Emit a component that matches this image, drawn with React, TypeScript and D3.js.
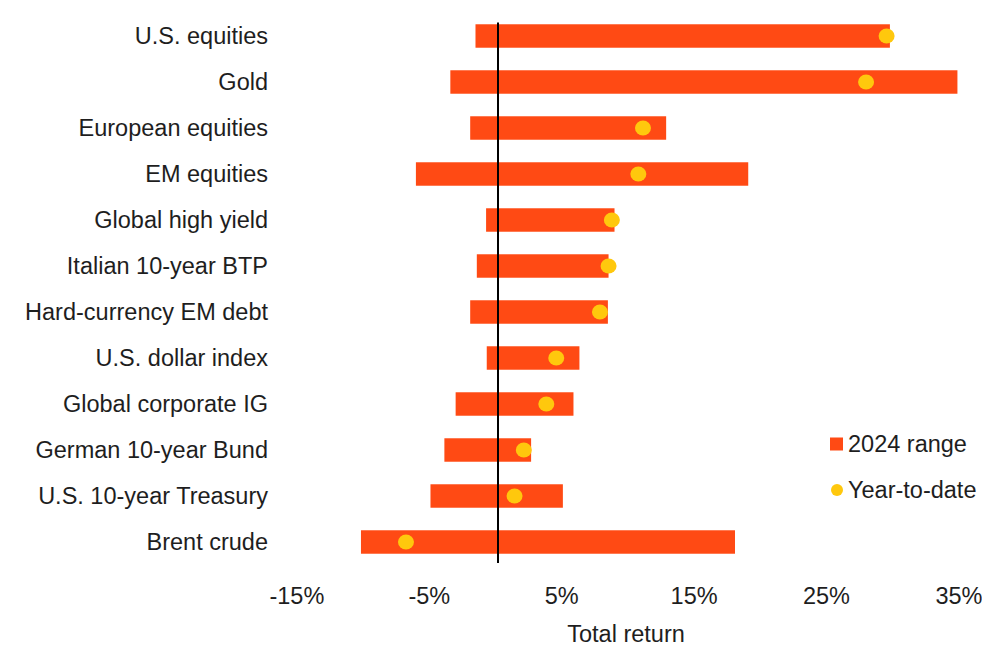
import React, { useRef, useEffect } from 'react';
import * as d3 from 'd3';

const categories = [
  'U.S. equities',
  'Gold',
  'European equities',
  'EM equities',
  'Global high yield',
  'Italian 10-year BTP',
  'Hard-currency EM debt',
  'U.S. dollar index',
  'Global corporate IG',
  'German 10-year Bund',
  'U.S. 10-year Treasury',
  'Brent crude',
];
const rangeLow = [-1.7, -3.6, -2.1, -6.2, -0.9, -1.6, -2.1, -0.85, -3.2, -4.05, -5.1, -10.35];
const rangeHigh = [29.6, 34.7, 12.7, 18.9, 8.8, 8.35, 8.3, 6.15, 5.7, 2.5, 4.9, 17.9];
const ytd = [29.35, 27.8, 10.95, 10.6, 8.6, 8.35, 7.7, 4.4, 3.65, 1.95, 1.25, -6.95];
const tickValues = [-15, -5, 5, 15, 25, 35];

const W = 982;
const H = 646;
const BAR = '#ff4a14';
const DOT = '#ffc80d';
const TEXT = '#1e1e1e';
const FONT = "'Liberation Sans', Arial, sans-serif";
const FS = 23.5;

const Chart = () => {
  const svgRef = useRef<SVGSVGElement>(null);

  useEffect(() => {
    const svg = d3.select(svgRef.current);
    svg.selectAll('*').remove();

    const data = categories.map((c, i) => ({
      name: c,
      lo: rangeLow[i],
      hi: rangeHigh[i],
      ytd: ytd[i],
    }));

    // 0% sits on the black line, 10 pts = ~132px
    const x = d3.scaleLinear().domain([-15, 35]).range([299.4, 961.4]);
    const y = d3
      .scaleBand()
      .domain(categories)
      .range([13, 565])
      .paddingInner(0.49)
      .paddingOuter(0.245);

    svg
      .append('g')
      .selectAll('rect')
      .data(data)
      .enter()
      .append('rect')
      .attr('x', (d) => x(d.lo))
      .attr('y', (d) => y(d.name)!)
      .attr('width', (d) => x(d.hi) - x(d.lo))
      .attr('height', y.bandwidth())
      .attr('fill', BAR);

    // zero line
    svg
      .append('line')
      .attr('x1', x(0))
      .attr('x2', x(0))
      .attr('y1', 22.5)
      .attr('y2', 563)
      .attr('stroke', '#000')
      .attr('stroke-width', 2);

    svg
      .append('g')
      .selectAll('ellipse')
      .data(data)
      .enter()
      .append('ellipse')
      .attr('cx', (d) => x(d.ytd))
      .attr('cy', (d) => y(d.name)! + y.bandwidth() / 2)
      .attr('rx', 8)
      .attr('ry', 7.5)
      .attr('fill', DOT);

    // category labels
    svg
      .append('g')
      .selectAll('text')
      .data(data)
      .enter()
      .append('text')
      .attr('x', 268)
      .attr('y', (d) => y(d.name)! + y.bandwidth() / 2 - 0.5)
      .attr('dy', '0.35em')
      .attr('text-anchor', 'end')
      .attr('font-family', FONT)
      .attr('font-size', FS)
      .attr('fill', TEXT)
      .text((d) => d.name);

    // x axis labels
    const xAxis = d3
      .axisBottom(x)
      .tickValues(tickValues)
      .tickSize(0)
      .tickPadding(0)
      .tickFormat((v) => `${v}%`);
    const gx = svg.append('g').attr('transform', 'translate(-3,587)').call(xAxis);
    gx.select('.domain').remove();
    gx.selectAll('text')
      .attr('font-family', FONT)
      .attr('font-size', FS)
      .attr('fill', TEXT)
      .attr('dy', '0.71em');

    svg
      .append('text')
      .attr('x', 626)
      .attr('y', 642)
      .attr('text-anchor', 'middle')
      .attr('font-family', FONT)
      .attr('font-size', FS)
      .attr('fill', TEXT)
      .text('Total return');

    // legend
    const lg = svg.append('g');
    lg.append('rect').attr('x', 830).attr('y', 437.5).attr('width', 13).attr('height', 13).attr('fill', BAR);
    lg.append('text')
      .attr('x', 848)
      .attr('y', 444)
      .attr('dy', '0.35em')
      .attr('font-family', FONT)
      .attr('font-size', FS)
      .attr('fill', TEXT)
      .text('2024 range');
    lg.append('circle').attr('cx', 837).attr('cy', 490).attr('r', 6).attr('fill', DOT);
    lg.append('text')
      .attr('x', 848)
      .attr('y', 490)
      .attr('dy', '0.35em')
      .attr('font-family', FONT)
      .attr('font-size', FS)
      .attr('fill', TEXT)
      .text('Year-to-date');
  }, []);

  return <svg ref={svgRef} width={W} height={H} style={{ display: 'block', background: '#fff' }} />;
};

export default function App() {
  return (
    <div style={{ position: 'absolute', left: 0, top: 0 }}>
      <Chart />
    </div>
  );
}
